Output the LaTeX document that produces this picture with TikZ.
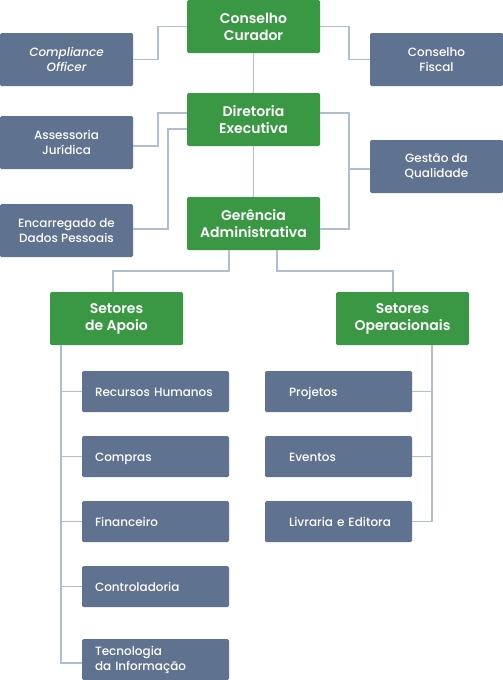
\documentclass[tikz,border=0pt]{standalone}
\usepackage{fontspec}
\setmainfont{Poppins}[UprightFont=* Medium,ItalicFont=* Medium Italic]
\newfontfamily\semib{Poppins}[UprightFont=* SemiBold]
\newfontfamily\boldf{Poppins}[UprightFont=* SemiBold]
\definecolor{gbox}{RGB}{58,152,68}
\definecolor{sbox}{RGB}{95,114,143}
\definecolor{lnc}{RGB}{176,190,210}
\begin{document}
\begin{tikzpicture}[x=1pt,y=-1pt,
  green/.style={fill=gbox,text=white,rounded corners=1.5pt,minimum width=133pt,minimum height=53pt,inner sep=0pt,align=center,font=\semib\fontsize{14}{17}\selectfont},
  greenb/.style={green,font=\boldf\fontsize{14}{17}\selectfont},
  slate/.style={fill=sbox,text=white,rounded corners=1.5pt,minimum width=133pt,minimum height=53pt,inner sep=0pt,align=center,font=\fontsize{12}{15}\selectfont},
  lbox/.style={fill=sbox,text=white,rounded corners=1.5pt,minimum height=41pt,inner ysep=0pt,inner xsep=13pt,text width=121pt,align=left,font=\fontsize{12}{15}\selectfont},
  one/.style={text height=11.5pt,text depth=1.6pt},
  rbox/.style={fill=sbox,text=white,rounded corners=1.5pt,minimum height=41pt,inner ysep=0pt,inner xsep=12pt,text width=123pt,align=left,font=\fontsize{12}{15}\selectfont,execute at begin node={\hspace*{12pt}},one},
  conn/.style={draw=lnc,line width=1.8pt}]
\useasboundingbox[fill=white] (0,0) rectangle (503,680);
% green nodes
\node[green] (cc) at (253.5,26.5) {Conselho\\Curador};
\node[green] (de) at (253.5,119.5) {Diretoria\\Executiva};
\node[green] (ga) at (253.5,223.5) {Gerência\\Administrativa};
\node[greenb] (sda) at (116.5,318.5) {Setores\\de Apoio};
\node[greenb] (so) at (402.5,318.5) {Setores\\Operacionais};
% slate nodes
\node[slate] (co) at (66.5,59.5) {\itshape Compliance\\\itshape Officer};
\node[slate] (cf) at (436.5,59.5) {Conselho\\Fiscal};
\node[slate] (aj) at (66.5,142.5) {Assessoria\\Jurídica};
\node[slate] (en) at (66.5,230.5) {Encarregado de\\Dados Pessoais};
\node[slate] (gq) at (436.5,166.5) {Gestão da\\Qualidade};
% lower left
\node[lbox,one] (rh) at (155.5,391.5) {Recursos Humanos};
\node[lbox,one] (cp) at (155.5,456.5) {Compras};
\node[lbox,one] (fi) at (155.5,521.5) {Financeiro};
\node[lbox,one] (ct) at (155.5,586.5) {Controladoria};
\node[lbox] (ti) at (155.5,659.5) {Tecnologia\\da Informação};
% lower right
\node[rbox] (pj) at (338.5,391.5) {Projetos};
\node[rbox] (ev) at (338.5,456.5) {Eventos};
\node[rbox] (lv) at (338.5,521.5) {Livraria e Editora};
% connectors
\draw[conn] (cc.west) -- ++(-29,0) |- (co.east);
\draw[conn] (cc.east) -- ++(29,0) |- (cf.west);
\draw[conn] (cc.south) -- (de.north);
\draw[conn] ([yshift=6.5]de.west) -- ++(-29,0) |- ([yshift=-3.5]aj.east);
\draw[conn] ([yshift=-9.5]de.west) -- ++(-19,0) |- ([yshift=1.5]en.east);
\draw[conn] ([yshift=6.5]de.east) -- ++(29,0) coordinate (rj) |- ([yshift=-5.5]ga.east);
\draw[conn] ([yshift=-2.5]gq.west) -- ([yshift=-2.5]gq.west -| rj);
\draw[conn] (de.south) -- (ga.north);
\draw[conn] ([xshift=-24.5]ga.south) -- ++(0,21) -| ([xshift=-3.5]sda.north);
\draw[conn] ([xshift=23.5]ga.south) -- ++(0,21) -| ([xshift=-9.5]so.north);
\draw[conn] ([xshift=11]sda.south west) coordinate (ls) |- ([yshift=-3.5]ti.west);
\foreach \n in {rh,cp,fi,ct} \draw[conn] (\n.west) -- (\n.west -| ls);
\draw[conn] ([xshift=-37]so.south east) coordinate (rs) |- (lv.east);
\foreach \n in {pj,ev} \draw[conn] (\n.east) -- (\n.east -| rs);
\end{tikzpicture}
\end{document}
